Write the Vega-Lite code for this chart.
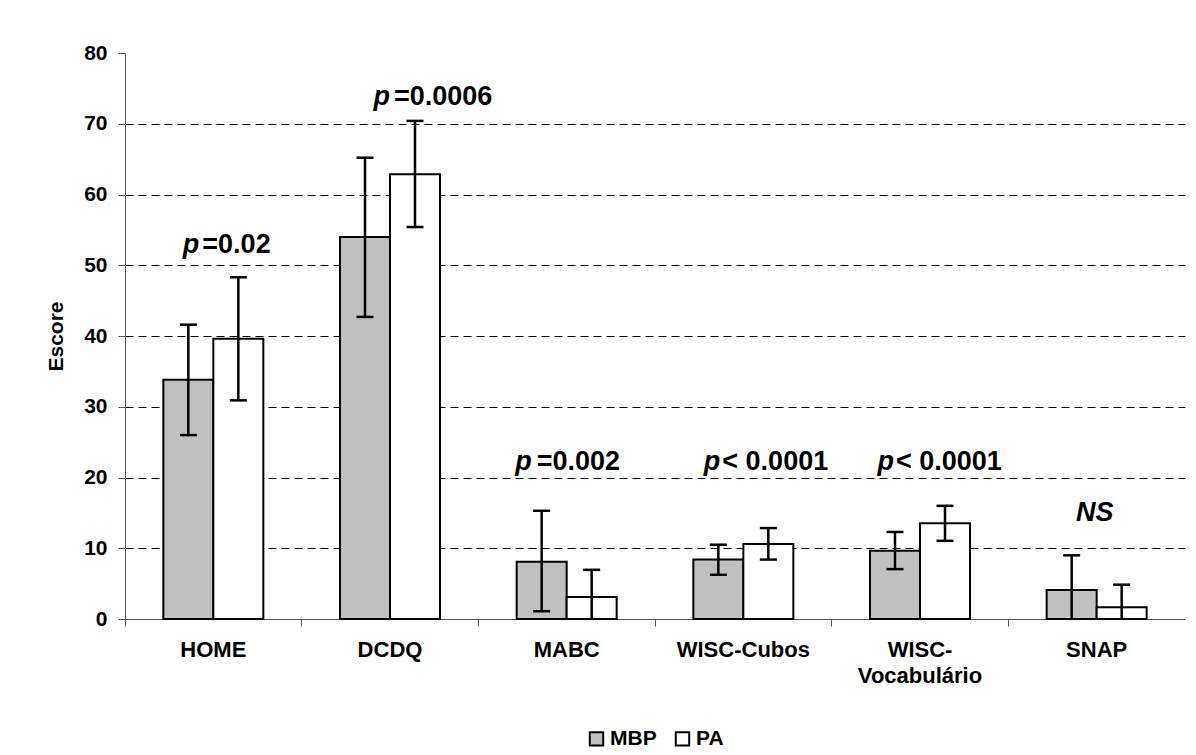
{
  "$schema": "https://vega.github.io/schema/vega-lite/v6.json",
  "width": 1060,
  "height": 566,
  "autosize": {"type": "none"},
  "padding": {"left": 125, "top": 53, "right": 11, "bottom": 136},
  "background": "white",
  "config": {
    "view": {"stroke": null},
    "font": "Liberation Sans",
    "legend": {"layout": {"bottom": {"anchor": "middle"}}}
  },
  "datasets": {
    "scores": [
      {"cat": "HOME", "group": "MBP", "mean": 33.8, "lower": 26.0, "upper": 41.6},
      {"cat": "HOME", "group": "PA", "mean": 39.6, "lower": 30.9, "upper": 48.3},
      {"cat": "DCDQ", "group": "MBP", "mean": 54.0, "lower": 42.7, "upper": 65.2},
      {"cat": "DCDQ", "group": "PA", "mean": 62.85, "lower": 55.4, "upper": 70.4},
      {"cat": "MABC", "group": "MBP", "mean": 8.1, "lower": 1.1, "upper": 15.3},
      {"cat": "MABC", "group": "PA", "mean": 3.1, "lower": 0, "upper": 6.95},
      {"cat": "WISC-Cubos", "group": "MBP", "mean": 8.4, "lower": 6.25, "upper": 10.5},
      {"cat": "WISC-Cubos", "group": "PA", "mean": 10.6, "lower": 8.4, "upper": 12.85},
      {"cat": "WISC-Vocabulário", "group": "MBP", "mean": 9.65, "lower": 7.05, "upper": 12.3},
      {"cat": "WISC-Vocabulário", "group": "PA", "mean": 13.55, "lower": 11.05, "upper": 16.0},
      {"cat": "SNAP", "group": "MBP", "mean": 4.1, "lower": 0, "upper": 9.0},
      {"cat": "SNAP", "group": "PA", "mean": 1.65, "lower": 0, "upper": 4.85}
    ],
    "notes": [
      {"cat": "HOME", "y": 51.7, "pre": "p", "rest": "=0.02"},
      {"cat": "DCDQ", "y": 72.6, "pre": "p", "rest": "=0.0006"},
      {"cat": "MABC", "y": 21.0, "pre": "p", "rest": "=0.002"},
      {"cat": "WISC-Cubos", "y": 21.0, "pre": "p", "rest": "< 0.0001"},
      {"cat": "WISC-Vocabulário", "y": 21.0, "pre": "p", "rest": "< 0.0001"},
      {"cat": "SNAP", "y": 13.9, "pre": "NS", "rest": ""}
    ]
  },
  "layer": [
    {
      "data": {"name": "scores"},
      "mark": {"type": "bar", "stroke": "black", "strokeWidth": 2},
      "encoding": {
        "x": {
          "field": "cat", "type": "nominal",
          "sort": ["HOME", "DCDQ", "MABC", "WISC-Cubos", "WISC-Vocabulário", "SNAP"],
          "scale": {"paddingInner": 0.434, "paddingOuter": 0.217},
          "axis": {
            "title": null, "bandPosition": -0.3833,
            "tickSize": 7, "labelPadding": 13, "labelAngle": 0,
            "labelFont": "Liberation Sans", "labelFontWeight": "bold", "labelFontSize": 22,
            "labelColor": "black", "domainColor": "#555", "tickColor": "#555",
            "labelBaseline": "top", "labelLineHeight": 26,
            "labelExpr": "datum.label == 'WISC-Vocabulário' ? ['WISC-', 'Vocabulário'] : datum.label"
          }
        },
        "xOffset": {"field": "group", "type": "nominal", "sort": ["MBP", "PA"], "scale": {"paddingInner": 0, "paddingOuter": 0}},
        "y": {
          "field": "mean", "type": "quantitative",
          "scale": {"domain": [0, 80], "nice": false},
          "axis": {
            "title": "Escore", "titleFont": "Liberation Sans", "titleFontSize": 21, "titleFontWeight": "bold",
            "titleColor": "black", "titlePadding": 17,
            "values": [0, 10, 20, 30, 40, 50, 60, 70, 80],
            "labelFont": "Liberation Sans", "labelFontSize": 21, "labelFontWeight": "bold", "labelColor": "black",
            "tickSize": 7, "labelPadding": 11, "domainColor": "#555", "tickColor": "#555",
            "grid": true, "gridColor": "black", "gridDash": [8, 5], "gridWidth": 1,
            "gridOpacity": {"condition": {"test": "datum.value === 80 || datum.value === 0", "value": 0}, "value": 1}
          }
        },
        "fill": {
          "field": "group", "type": "nominal",
          "scale": {"domain": ["MBP", "PA"], "range": ["#c0c0c0", "#ffffff"]},
          "legend": {
            "orient": "bottom", "direction": "horizontal", "title": null,
            "symbolType": "square", "symbolSize": 180, "symbolStrokeColor": "black", "symbolStrokeWidth": 2,
            "labelFont": "Liberation Sans", "labelFontSize": 21, "labelFontWeight": "bold", "labelColor": "black",
            "labelOffset": 3, "columnPadding": 14, "offset": 42
          }
        }
      }
    },
    {
      "data": {"name": "scores"},
      "mark": {"type": "rule", "stroke": "black", "strokeWidth": 2.5},
      "encoding": {
        "x": {"field": "cat", "type": "nominal", "sort": ["HOME", "DCDQ", "MABC", "WISC-Cubos", "WISC-Vocabulário", "SNAP"]},
        "xOffset": {"field": "group", "type": "nominal", "sort": ["MBP", "PA"]},
        "y": {"field": "lower", "type": "quantitative"},
        "y2": {"field": "upper"}
      }
    },
    {
      "data": {"name": "scores"},
      "mark": {"type": "tick", "orient": "horizontal", "color": "black", "size": 17, "thickness": 2.5, "opacity": 1},
      "encoding": {
        "x": {"field": "cat", "type": "nominal", "sort": ["HOME", "DCDQ", "MABC", "WISC-Cubos", "WISC-Vocabulário", "SNAP"]},
        "xOffset": {"field": "group", "type": "nominal", "sort": ["MBP", "PA"]},
        "y": {"field": "upper", "type": "quantitative"}
      }
    },
    {
      "data": {"name": "scores"},
      "transform": [{"filter": "datum.lower > 0"}],
      "mark": {"type": "tick", "orient": "horizontal", "color": "black", "size": 17, "thickness": 2.5, "opacity": 1},
      "encoding": {
        "x": {"field": "cat", "type": "nominal", "sort": ["HOME", "DCDQ", "MABC", "WISC-Cubos", "WISC-Vocabulário", "SNAP"]},
        "xOffset": {"field": "group", "type": "nominal", "sort": ["MBP", "PA"]},
        "y": {"field": "lower", "type": "quantitative"}
      }
    },
    {
      "data": {"name": "notes"},
      "transform": [{"filter": "datum.cat === 'HOME'"}],
      "encoding": {
        "x": {"field": "cat", "type": "nominal", "sort": ["HOME", "DCDQ", "MABC", "WISC-Cubos", "WISC-Vocabulário", "SNAP"]},
        "y": {"field": "y", "type": "quantitative"}
      },
      "layer": [
        {"mark": {"type": "text", "fontSize": 27, "fontWeight": "bold", "fontStyle": "italic", "align": "right", "baseline": "alphabetic", "dx": -14, "color": "black"}, "encoding": {"text": {"field": "pre"}}},
        {"mark": {"type": "text", "fontSize": 27, "fontWeight": "bold", "align": "left", "baseline": "alphabetic", "dx": -11, "color": "black"}, "encoding": {"text": {"field": "rest"}}}
      ]
    },
    {
      "data": {"name": "notes"},
      "transform": [{"filter": "datum.cat === 'DCDQ'"}],
      "encoding": {
        "x": {"field": "cat", "type": "nominal", "sort": ["HOME", "DCDQ", "MABC", "WISC-Cubos", "WISC-Vocabulário", "SNAP"]},
        "y": {"field": "y", "type": "quantitative"}
      },
      "layer": [
        {"mark": {"type": "text", "fontSize": 27, "fontWeight": "bold", "fontStyle": "italic", "align": "right", "baseline": "alphabetic", "dx": 0, "color": "black"}, "encoding": {"text": {"field": "pre"}}},
        {"mark": {"type": "text", "fontSize": 27, "fontWeight": "bold", "align": "left", "baseline": "alphabetic", "dx": 4, "color": "black"}, "encoding": {"text": {"field": "rest"}}}
      ]
    },
    {
      "data": {"name": "notes"},
      "transform": [{"filter": "datum.cat === 'MABC'"}],
      "encoding": {
        "x": {"field": "cat", "type": "nominal", "sort": ["HOME", "DCDQ", "MABC", "WISC-Cubos", "WISC-Vocabulário", "SNAP"]},
        "y": {"field": "y", "type": "quantitative"}
      },
      "layer": [
        {"mark": {"type": "text", "fontSize": 27, "fontWeight": "bold", "fontStyle": "italic", "align": "right", "baseline": "alphabetic", "dx": -35, "color": "black"}, "encoding": {"text": {"field": "pre"}}},
        {"mark": {"type": "text", "fontSize": 27, "fontWeight": "bold", "align": "left", "baseline": "alphabetic", "dx": -30, "color": "black"}, "encoding": {"text": {"field": "rest"}}}
      ]
    },
    {
      "data": {"name": "notes"},
      "transform": [{"filter": "datum.cat === 'WISC-Cubos'"}],
      "encoding": {
        "x": {"field": "cat", "type": "nominal", "sort": ["HOME", "DCDQ", "MABC", "WISC-Cubos", "WISC-Vocabulário", "SNAP"]},
        "y": {"field": "y", "type": "quantitative"}
      },
      "layer": [
        {"mark": {"type": "text", "fontSize": 27, "fontWeight": "bold", "fontStyle": "italic", "align": "right", "baseline": "alphabetic", "dx": -23, "color": "black"}, "encoding": {"text": {"field": "pre"}}},
        {"mark": {"type": "text", "fontSize": 27, "fontWeight": "bold", "align": "left", "baseline": "alphabetic", "dx": -21, "color": "black"}, "encoding": {"text": {"field": "rest"}}}
      ]
    },
    {
      "data": {"name": "notes"},
      "transform": [{"filter": "datum.cat === 'WISC-Vocabulário'"}],
      "encoding": {
        "x": {"field": "cat", "type": "nominal", "sort": ["HOME", "DCDQ", "MABC", "WISC-Cubos", "WISC-Vocabulário", "SNAP"]},
        "y": {"field": "y", "type": "quantitative"}
      },
      "layer": [
        {"mark": {"type": "text", "fontSize": 27, "fontWeight": "bold", "fontStyle": "italic", "align": "right", "baseline": "alphabetic", "dx": -26, "color": "black"}, "encoding": {"text": {"field": "pre"}}},
        {"mark": {"type": "text", "fontSize": 27, "fontWeight": "bold", "align": "left", "baseline": "alphabetic", "dx": -24, "color": "black"}, "encoding": {"text": {"field": "rest"}}}
      ]
    },
    {
      "data": {"name": "notes"},
      "transform": [{"filter": "datum.cat === 'SNAP'"}],
      "mark": {"type": "text", "fontSize": 27, "fontWeight": "bold", "fontStyle": "italic", "align": "center", "baseline": "alphabetic", "dx": -2, "color": "black"},
      "encoding": {
        "x": {"field": "cat", "type": "nominal", "sort": ["HOME", "DCDQ", "MABC", "WISC-Cubos", "WISC-Vocabulário", "SNAP"]},
        "y": {"field": "y", "type": "quantitative"},
        "text": {"field": "pre"}
      }
    }
  ]
}
